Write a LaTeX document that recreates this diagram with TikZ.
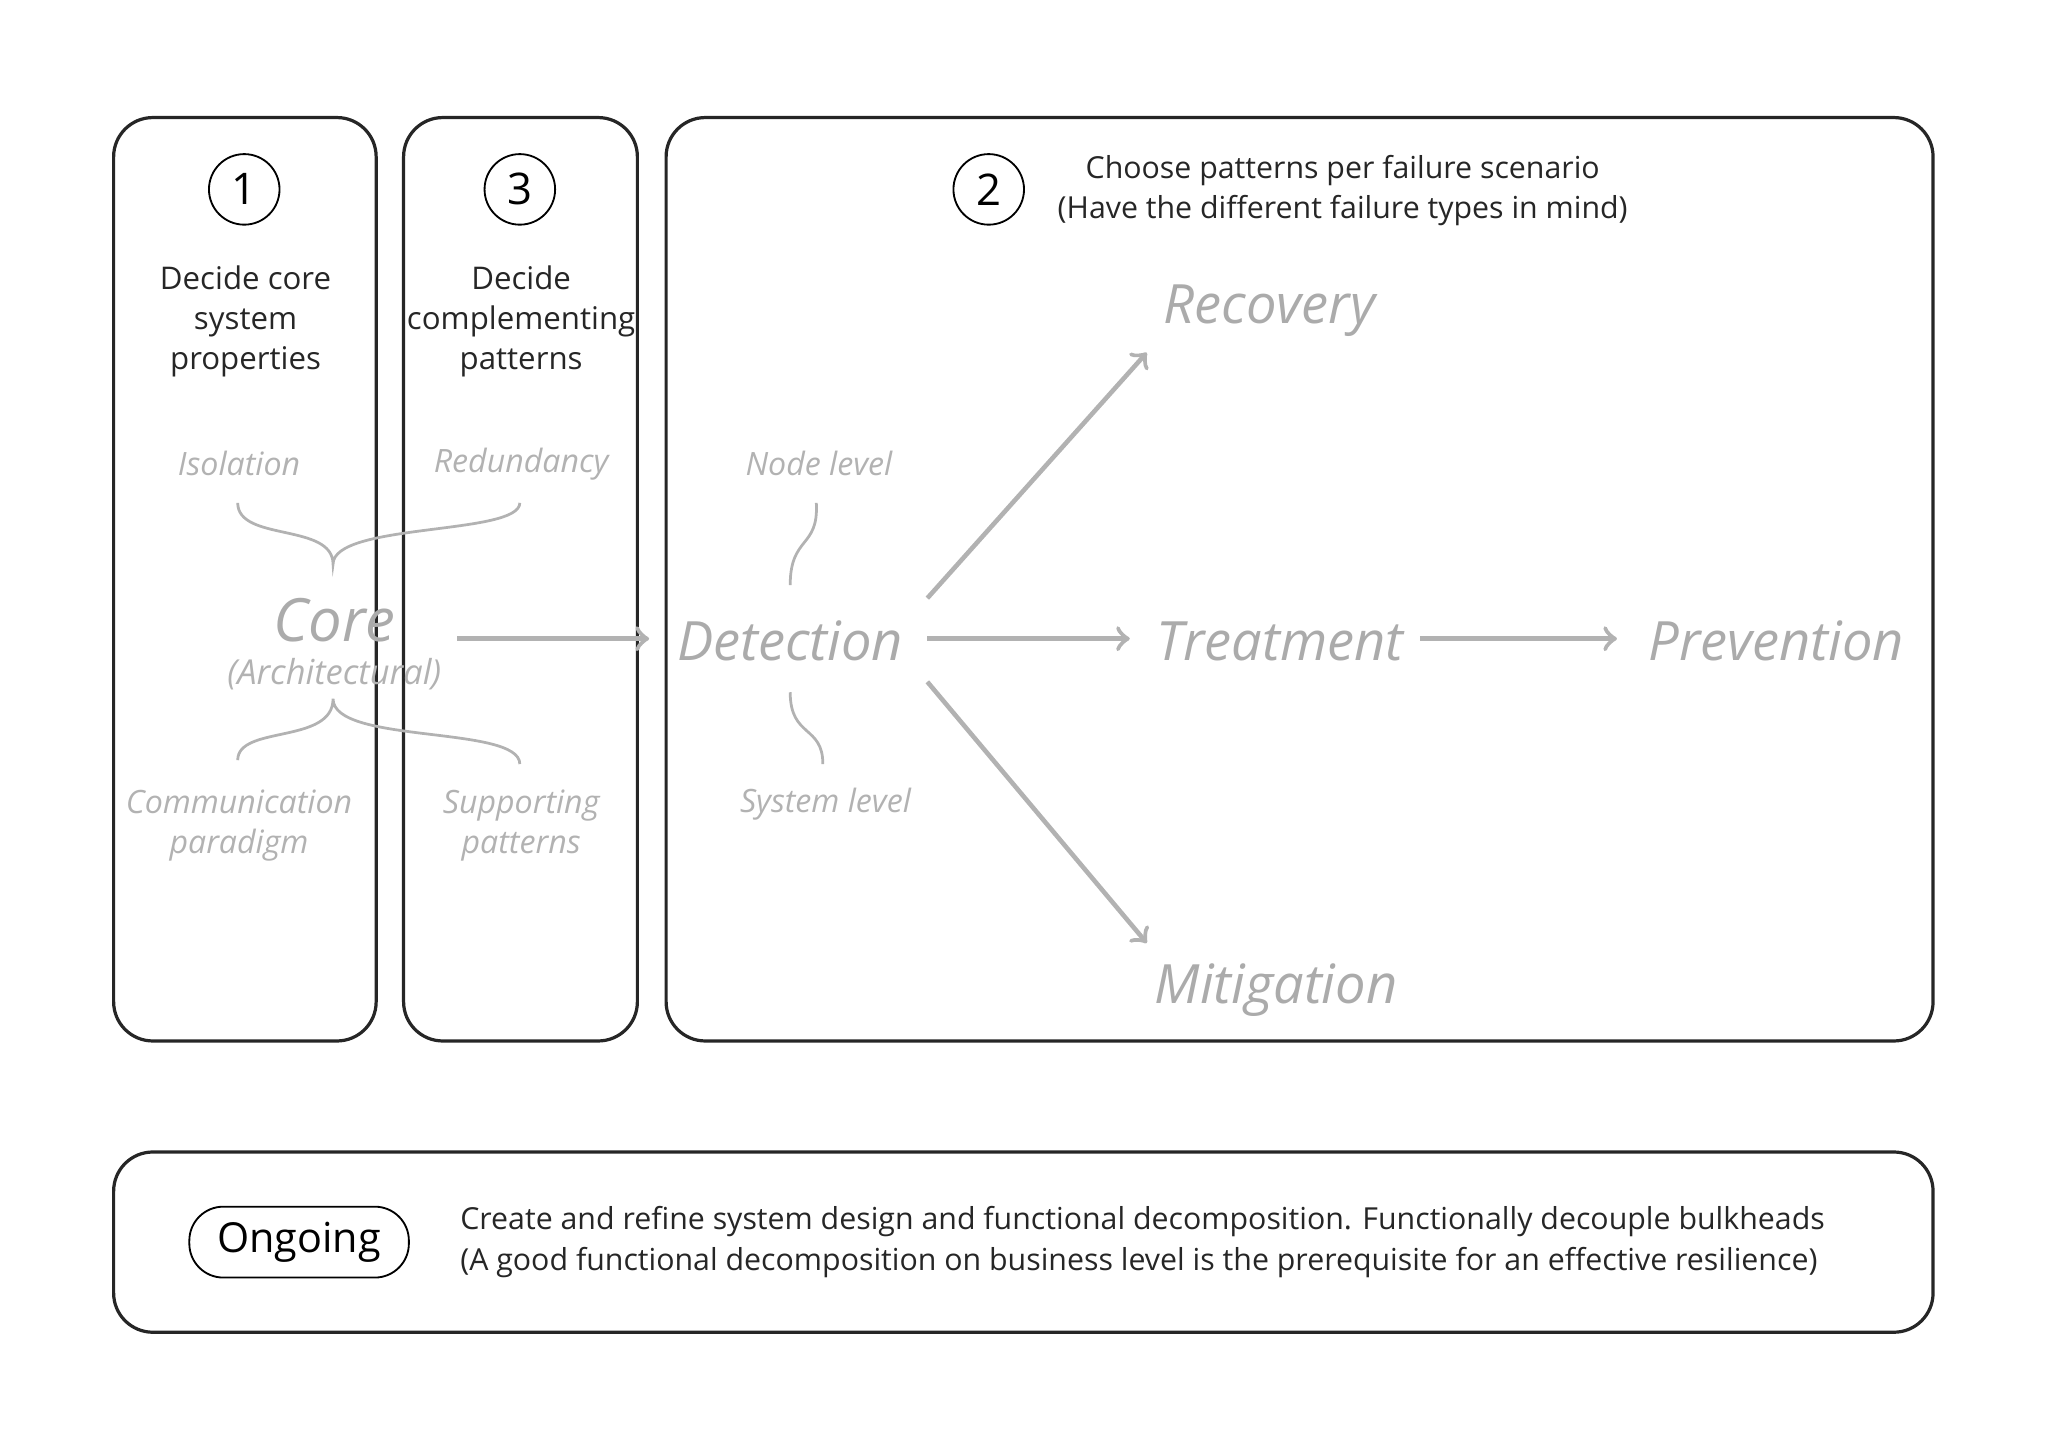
\documentclass[tikz,border=0pt]{standalone}
\usepackage{fontspec}
\setmainfont{Open Sans}
\begin{document}
\begin{tikzpicture}[x=0.01cm,y=-0.01cm,
 box/.style={draw=black!85,line width=0.7pt,rounded corners=0.3cm},
 num/.style={draw=black,circle,minimum size=0.54cm,inner sep=0pt,font=\fontsize{9.5}{11}\selectfont},
 blk/.style={font=\fontsize{6.8}{8.8}\selectfont,align=center,text=black!85},
 sm/.style={font=\fontsize{7}{8.8}\selectfont\itshape,align=center,text=black!30},
 big/.style={font=\fontsize{11.8}{14}\selectfont\itshape,text=black!33},
 arr/.style={draw=black!30,line width=1pt,->},
 brace/.style={draw=black!30,line width=0.6pt}]
\useasboundingbox (0,0) rectangle (1568,1109);
\draw[box] (87,90) rectangle (288,797);
\draw[box] (309,90) rectangle (488,797);
\draw[box] (510,90) rectangle (1480,797);
\draw[box] (87,882) rectangle (1480,1020);
\node[num] (n1) at (187,145) {1};
\node[num] (n3) at (398,145) {3};
\node[num] (n2) at (757,145) {2};
\node[blk] (t1) at (188,246) {Decide core\\system\\properties};
\node[blk] (t3) at (399,246) {Decide\\complementing\\patterns};
\node[blk,font=\fontsize{6.6}{8.8}\selectfont] (t2) at (1028,146) {Choose patterns per failure scenario\\(Have the different failure types in mind)};
\node[sm] (iso) at (183,355) {Isolation};
\node[sm] (red) at (399,355) {Redundancy};
\node[sm] (com) at (183,632) {Communication\\paradigm};
\node[sm] (sup) at (399,632) {Supporting\\patterns};
\node[sm] (nl) at (627,355) {Node level};
\node[sm] (sl) at (632,616) {System level};
\node[big,font=\fontsize{13}{15}\selectfont\itshape] (core) at (256,475) {Core};
\node[sm,font=\fontsize{7.5}{9}\selectfont\itshape] (arch) at (256,516) {(Architectural)};
\node[big] (det) at (605,491) {Detection};
\node[big] (tre) at (980,491) {Treatment};
\node[big] (pre) at (1360,491) {Prevention};
\node[big] (rec) at (972,238) {Recovery};
\node[big] (mit) at (977,758) {Mitigation};
\coordinate (cin) at (350,489);
\draw[arr] (cin) -- (497,489);
\draw[arr] (710,489) -- (865,489);
\draw[arr] (1087,489) -- (1238,489);
\draw[arr] (710,458) -- (878,270);
\draw[arr] (710,522) -- (878,722);
\draw[brace] (182,385) .. controls (182,415) and (255,400) .. (255,432) .. controls (255,400) and (398,410) .. (398,385);
\draw[brace] (182,582) .. controls (182,555) and (255,570) .. (255,535) .. controls (255,570) and (398,555) .. (398,585);
\draw[brace] (625,385) .. controls (627,420) and (605,410) .. (605,448);
\draw[brace] (605,530) .. controls (605,565) and (630,555) .. (630,585);
\node[draw=black,rounded corners=0.26cm,minimum width=1.68cm,minimum height=0.52cm,font=\fontsize{9}{11}\selectfont] (on) at (229,951) {Ongoing};
\node[blk,align=left,anchor=west,font=\fontsize{6.6}{8.8}\selectfont] (ot) at (340,951) {Create and refine system design and functional decomposition. Functionally decouple bulkheads\\(A good functional decomposition on business level is the prerequisite for an effective resilience)};
\end{tikzpicture}
\end{document}
